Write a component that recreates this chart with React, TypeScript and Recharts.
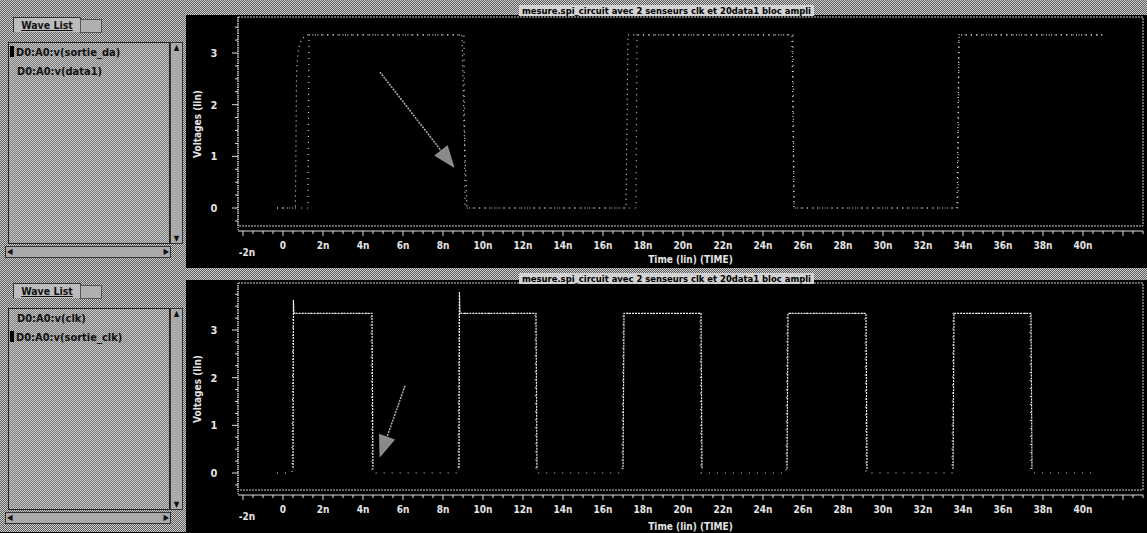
import React from "react";
import { LineChart, Line, XAxis, YAxis, ReferenceArea, ReferenceLine } from "recharts";

// top window: data sensor
const data1Time = [-0.3, 0.62, 0.68, 0.78, 0.95, 1.25, 8.95, 9.05, 9.2, 17.15, 17.25, 25.45, 25.55, 33.7, 33.8, 41];
const data1Volt = [0, 0, 2.7, 3.1, 3.28, 3.35, 3.35, 1.6, 0, 0, 3.35, 3.35, 0, 0, 3.35, 3.35];
const sortieDaTime = [-0.3, 1.25, 1.3, 9.05, 9.1, 17.65, 17.7, 25.5, 25.55, 33.75, 33.8, 41];
const sortieDaVolt = [0, 0, 3.35, 3.35, 0, 0, 3.35, 3.35, 0, 0, 3.35, 3.35];

// bottom window: clock sensor
const clkTime = [-0.3, 0.45, 0.5, 4.4, 4.45, 8.75, 8.8, 12.6, 12.65, 16.95, 17.0, 20.85, 20.9, 25.15, 25.2, 29.1, 29.15, 33.45, 33.5, 37.35, 37.4, 40.75];
const clkVolt = [0, 0, 3.35, 3.35, 0, 0, 3.35, 3.35, 0, 0, 3.35, 3.35, 0, 0, 3.35, 3.35, 0, 0, 3.35, 3.35, 0, 0];
const sortieClkTime = [-0.3, 0.5, 0.52, 0.55, 4.45, 4.5, 8.8, 8.82, 8.85, 12.65, 12.7, 17.0, 17.05, 20.9, 20.95, 25.2, 25.25, 29.15, 29.2, 33.5, 33.55, 37.4, 37.45, 40.75];
const sortieClkVolt = [0, 0, 3.63, 3.35, 3.35, 0, 0, 3.8, 3.35, 3.35, 0, 0, 3.35, 3.35, 0, 0, 3.35, 3.35, 0, 0, 3.35, 3.35, 0, 0];

const timeTicks = Array.from({ length: 91 }, (_, i) => -2 + i * 0.5);
const voltTicksTop = [-0.25, 0, 0.25, 0.5, 0.75, 1, 1.25, 1.5, 1.75, 2, 2.25, 2.5, 2.75, 3, 3.25, 3.5];
const voltTicksBottom = [...voltTicksTop, 3.75];

const topWaves = ["D0:A0:v(sortie_da)", "D0:A0:v(data1)"];
const bottomWaves = ["D0:A0:v(clk)", "D0:A0:v(sortie_clk)"];
const title = "mesure.spi_circuit avec 2 senseurs clk et 20data1 bloc ampli";

// arrows drawn on the screenshot, [x1, y1, x2, y2] in ns / V
const topArrow = [4.85, 2.63, 8.55, 0.79];
const bottomArrow = [6.1, 1.83, 4.85, 0.34];

const zip = (t: number[], v: number[]) => t.map((x, i) => ({ t: x, v: v[i] }));

const FONT = "'DejaVu Sans Condensed', 'DejaVu Sans', sans-serif";
const checker = {
  backgroundImage: "repeating-conic-gradient(#5e5e5e 0% 25%, #cdcdcd 0% 50%)",
  backgroundSize: "2px 2px",
};

function TimeTick({ x, y, payload }: any) {
  const v = payload.value;
  const major = v % 2 === 0;
  const label = v === 0 ? "0" : `${v}n`;
  const low = v === -2;
  return (
    <g>
      <line x1={x} y1={y} x2={x} y2={y + (major ? 5 : 3)} stroke="#ddd" />
      {major && v <= 40 && (
        <text x={x + (low ? 4 : 0)} y={y + (low ? 25 : 18)} textAnchor="middle"
          fontFamily={FONT} fontSize={10} fontWeight="bold" fill="#e4e4e4">{label}</text>
      )}
    </g>
  );
}

function VoltTick({ x, y, payload }: any) {
  const v = payload.value;
  const major = Number.isInteger(v);
  return (
    <g>
      <line x1={x - (major ? 6 : 3)} y1={y} x2={x} y2={y} stroke="#ddd" />
      {major && (
        <text x={x - 24} y={y + 4} textAnchor="middle"
          fontFamily={FONT} fontSize={11} fontWeight="bold" fill="#e4e4e4">{v}</text>
      )}
    </g>
  );
}

function Arrow(props: any) {
  const { x1, y1, x2, y2 } = props;
  const a = Math.atan2(y2 - y1, x2 - x1);
  const len = 21, half = 8;
  const bx = x2 - len * Math.cos(a), by = y2 - len * Math.sin(a);
  const px = -Math.sin(a) * half, py = Math.cos(a) * half;
  return (
    <g>
      <line x1={x1} y1={y1} x2={bx} y2={by} stroke="#b0b0b0" strokeWidth={1.5} strokeDasharray="2 1" />
      <polygon points={`${x2},${y2} ${bx + px},${by + py} ${bx - px},${by - py}`} fill="#8a8a8a" stroke="#c0c0c0" strokeWidth={0.5} />
    </g>
  );
}

function WaveList({ top, waves, selected }: { top: number; waves: string[]; selected: number }) {
  return (
    <div style={{ position: "absolute", left: 0, top, width: 186, height: 266, ...checker, fontFamily: FONT }}>
      <div style={{ position: "absolute", left: 13, top: 17, width: 66, height: 14, border: "1px solid #333",
        borderBottom: "none", background: "#bcbcbc", fontSize: 10.5, fontWeight: "bold", color: "#111",
        textDecoration: "underline", textAlign: "center", lineHeight: "14px" }}>Wave List</div>
      <div style={{ position: "absolute", left: 80, top: 19, width: 20, height: 12, border: "1px solid #555",
        background: "#b0b0b0" }} />
      <div style={{ position: "absolute", left: 8, top: 42, width: 160, height: 200, border: "1px solid #222",
        background: "rgba(190,190,190,0.3)" }}>
        {waves.map((w, i) => (
          <div key={w} style={{ position: "absolute", left: i === selected ? 1 : 8, top: 3 + i * 19, fontSize: 11,
            fontWeight: "bold", color: "#111", whiteSpace: "nowrap" }}>
            {i === selected && <span style={{ display: "inline-block", width: 4, height: 11, background: "#000",
              marginRight: 2, verticalAlign: "-1px" }} />}
            {w}
          </div>
        ))}
      </div>
      <div style={{ position: "absolute", left: 170, top: 42, width: 11, height: 200, border: "1px solid #333",
        background: "#aaa", fontSize: 8, color: "#111", textAlign: "center" }}>
        <div>▲</div>
        <div style={{ position: "absolute", bottom: 0, width: "100%" }}>▼</div>
      </div>
      <div style={{ position: "absolute", left: 5, top: 246, width: 164, height: 10, border: "1px solid #333",
        background: "#aaa", fontSize: 8, lineHeight: "10px", color: "#111" }}>
        <span style={{ position: "absolute", left: 1 }}>◀</span>
        <span style={{ position: "absolute", right: 1 }}>▶</span>
      </div>
    </div>
  );
}

function TitleBar({ top, height }: { top: number; height: number }) {
  return (
    <div style={{ position: "absolute", left: 186, top, width: 961, height, ...checker, textAlign: "center" }}>
      <span style={{ fontFamily: FONT, fontSize: 9.4, fontWeight: "bold", color: "#000",
        background: "#d2d2d2", lineHeight: `${height}px`, padding: "0 3px" }}>{title}</span>
    </div>
  );
}

type PanelProps = {
  top: number;
  margin: { top: number; right: number; left: number; bottom: number };
  xHeight: number;
  yDomain: [number, number];
  boxBottom: number;
  yTicks: number[];
  arrow: number[];
  timeOffset: number;
  children: React.ReactNode;
};

function Panel({ top, margin, xHeight, yDomain, boxBottom, yTicks, arrow, timeOffset, children }: PanelProps) {
  return (
    <div style={{ position: "absolute", left: 188, top }}>
      <LineChart width={959} height={253} margin={margin}>
        <defs>
          <linearGradient id="hideLow" x1="0" y1="0" x2="0" y2="253" gradientUnits="userSpaceOnUse">
            <stop offset={188 / 253} stopColor="#f2f2f2" stopOpacity={1} />
            <stop offset={190 / 253} stopColor="#f2f2f2" stopOpacity={0} />
          </linearGradient>
        </defs>
        <XAxis dataKey="t" type="number" domain={[-2.25, 43]} allowDataOverflow ticks={timeTicks} interval={0}
          height={xHeight} tickSize={0} tickMargin={0} tickLine={false} axisLine={{ stroke: "#ddd" }}
          tick={<TimeTick />}
          label={{ value: "Time (lin) (TIME)", position: "insideBottom", offset: timeOffset,
            style: { fontFamily: FONT, fontSize: 10, fontWeight: "bold", fill: "#e4e4e4" } }} />
        <YAxis type="number" domain={yDomain} allowDataOverflow ticks={yTicks} interval={0} width={46}
          tickSize={0} tickMargin={0} tickLine={false} axisLine={{ stroke: "#ddd", strokeDasharray: "1 1" }}
          tick={<VoltTick />}
          label={{ value: "Voltages (lin)", angle: -90, position: "insideLeft", offset: 5,
            style: { textAnchor: "middle", fontFamily: FONT, fontSize: 10, fontWeight: "bold", fill: "#e4e4e4" } }} />
        <ReferenceArea x1={-2.25} x2={43} y1={boxBottom} y2={yDomain[1]} fill="none" stroke="#d0d0d0"
          strokeDasharray="2 1" ifOverflow="visible" />
        {children}
        <ReferenceLine segment={[{ x: arrow[0], y: arrow[1] }, { x: arrow[2], y: arrow[3] }]}
          ifOverflow="visible" shape={Arrow} />
      </LineChart>
    </div>
  );
}

export default function App() {
  return (
    <div style={{ position: "fixed", left: 0, top: 0, width: 1147, height: 533, background: "#000", overflow: "hidden" }}>
      <WaveList top={0} waves={topWaves} selected={0} />
      <WaveList top={266} waves={bottomWaves} selected={1} />
      <TitleBar top={0} height={15} />
      <TitleBar top={268} height={12} />
      <Panel top={15} margin={{ top: 2, right: 4, left: 4, bottom: 0 }} xHeight={37} yDomain={[-0.445, 3.697]}
        boxBottom={-0.348} yTicks={voltTicksTop} arrow={topArrow} timeOffset={5}>
        <Line data={zip(data1Time, data1Volt)} dataKey="v" type="linear" dot={false} stroke="#e0e0e0"
          strokeWidth={1.2} strokeDasharray="1 4" isAnimationActive={false} />
        <Line data={zip(sortieDaTime, sortieDaVolt)} dataKey="v" type="linear" dot={false} stroke="#cfcfcf"
          strokeWidth={1.2} strokeDasharray="1 5" isAnimationActive={false} />
      </Panel>
      <Panel top={280} margin={{ top: 3, right: 4, left: 4, bottom: 0 }} xHeight={38} yDomain={[-0.4615, 3.986]}
        boxBottom={-0.357} yTicks={voltTicksBottom} arrow={bottomArrow} timeOffset={3}>
        <Line data={zip(clkTime, clkVolt)} dataKey="v" type="linear" dot={false} stroke="#e0e0e0"
          strokeWidth={1.2} strokeDasharray="1 7" isAnimationActive={false} />
        <Line data={zip(sortieClkTime, sortieClkVolt)} dataKey="v" type="linear" dot={false} stroke="url(#hideLow)"
          strokeWidth={1.2} strokeDasharray="2 1" isAnimationActive={false} />
      </Panel>
    </div>
  );
}
